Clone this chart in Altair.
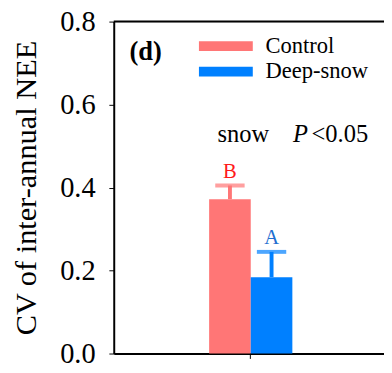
import altair as alt
import pandas as pd

treatments = ["Control", "Deep-snow"]
cv_values = [0.372, 0.184]
cv_errors = [0.033, 0.061]
letters = ["B", "A"]
bar_colors = ["#FF7676", "#0080FF"]
letter_colors = ["#FF1A1A", "#1F6FD0"]
group = ["snow", "snow"]

df = pd.DataFrame({
    "group": group,
    "treatment": treatments,
    "cv": cv_values,
    "err": cv_errors,
    "letter": letters,
    "letter_color": letter_colors,
})
df["upper"] = df["cv"] + df["err"]

FONT = "Liberation Serif, Times New Roman, serif"
PLOT_W = 276
PLOT_H = 339

x_enc = alt.X("group:N", title=None,
              scale=alt.Scale(paddingInner=0.11, paddingOuter=1, align=0.51),
              axis=alt.Axis(labels=False, ticks=True, tickSize=5, tickColor="#000",
                            tickWidth=1, domainColor="#000", domainWidth=2, grid=False))
xo = alt.XOffset("treatment:N", sort=treatments, scale=alt.Scale(paddingInner=0, paddingOuter=0))
color_scale = alt.Scale(domain=treatments, range=bar_colors)

base = alt.Chart(df)

bars = base.mark_bar().encode(
    x=x_enc,
    xOffset=xo,
    y=alt.Y("cv:Q", title="CV of inter-annual NEE",
            scale=alt.Scale(domain=[0, 0.8]),
            axis=alt.Axis(values=[0, 0.2, 0.4, 0.6, 0.8], format=".1f",
                          tickSize=5, tickColor="#000", tickWidth=1,
                          domainColor="#000", domainWidth=2, grid=False,
                          labelFont=FONT, labelFontSize=29, labelColor="#000",
                          labelPadding=14,
                          titleFont=FONT, titleFontSize=31, titleFontWeight="normal",
                          titleColor="#000", titlePadding=18)),
    color=alt.Color("treatment:N", sort=treatments, scale=color_scale, legend=None),
)

err_rule = base.mark_rule(strokeWidth=4).encode(
    x=x_enc, xOffset=xo,
    y="cv:Q", y2="upper:Q",
    color=alt.Color("treatment:N", scale=color_scale, legend=None),
)

caps = base.mark_tick(thickness=4, size=30, orient="horizontal").encode(
    x=x_enc, xOffset=xo,
    y="upper:Q",
    color=alt.Color("treatment:N", scale=color_scale, legend=None),
)

letter_text = base.mark_text(font=FONT, fontSize=21, baseline="alphabetic", dy=-8).encode(
    x=x_enc, xOffset=xo,
    y="upper:Q",
    text="letter:N",
    color=alt.Color("letter_color:N", scale=None),
)

# manual legend
legend_layers = []
for i, t in enumerate(treatments):
    sub = df[df["treatment"] == t]
    sw = alt.Chart(sub).mark_rect().encode(
        x=alt.value(87), x2=alt.value(142),
        y=alt.value(20 + 26 * i), y2=alt.value(30 + 26 * i),
        color=alt.Color("treatment:N", scale=color_scale, legend=None),
    )
    lb = alt.Chart(sub).mark_text(font=FONT, fontSize=23, align="left", baseline="middle",
                                  color="#000").encode(
        x=alt.value(155), y=alt.value(25 + 26 * i), text="treatment:N")
    legend_layers += [sw, lb]

panel = alt.Chart(pd.DataFrame({"t": ["(d)"]})).mark_text(
    font=FONT, fontSize=27, fontWeight="bold", align="left", baseline="middle", color="#000"
).encode(x=alt.value(16), y=alt.value(31), text="t:N")

snow = alt.Chart(pd.DataFrame({"t": ["snow"]})).mark_text(
    font=FONT, fontSize=25, align="left", baseline="alphabetic", color="#000"
).encode(x=alt.value(106), y=alt.value(123), text="t:N")

p_it = alt.Chart(pd.DataFrame({"t": ["P"]})).mark_text(
    font=FONT, fontSize=25, fontStyle="italic", align="left", baseline="alphabetic", color="#000"
).encode(x=alt.value(183), y=alt.value(123), text="t:N")

p_val = alt.Chart(pd.DataFrame({"t": ["<0.05"]})).mark_text(
    font=FONT, fontSize=25, align="left", baseline="alphabetic", color="#000"
).encode(x=alt.value(202), y=alt.value(123), text="t:N")

top_border = alt.Chart(pd.DataFrame({"t": [0]})).mark_rule(color="#000", strokeWidth=2).encode(
    x=alt.value(0), x2=alt.value(PLOT_W + 10), y=alt.value(0)
)

chart = alt.layer(bars, err_rule, caps, letter_text, *legend_layers, panel, snow, p_it, p_val,
                  top_border).properties(
    width=PLOT_W, height=PLOT_H,
    autosize=alt.AutoSizeParams(type="none"),
    padding={"left": 108, "top": 10, "right": 0, "bottom": 16},
).configure_view(stroke=None).configure(background="white")

chart.save("out.html", embed_options={"renderer": "svg", "actions": False})
